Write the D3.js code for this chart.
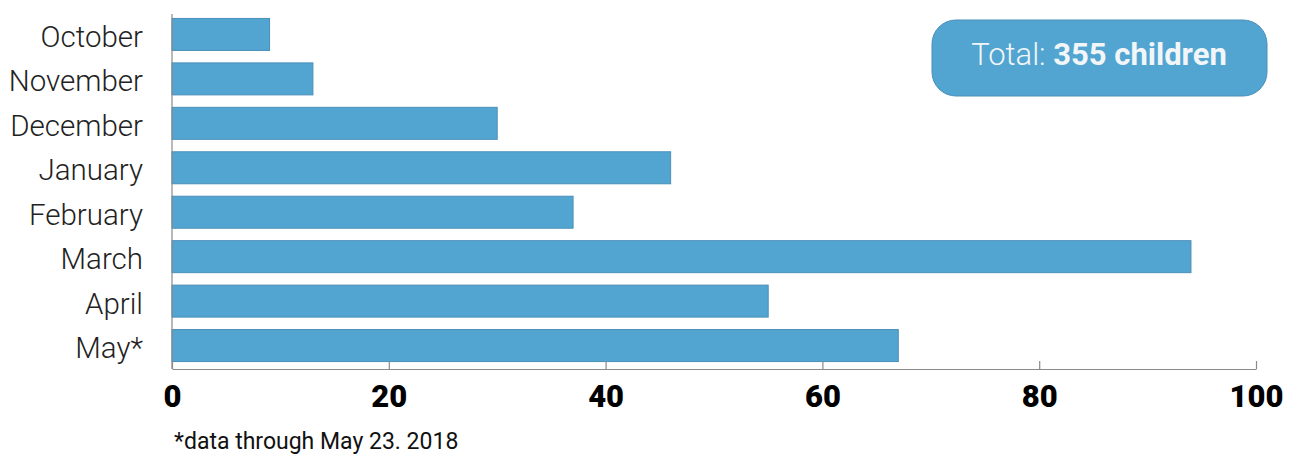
<!DOCTYPE html>
<html>
<head>
<meta charset="UTF-8">
<title>Children by month</title>
<script src="https://cdn.jsdelivr.net/npm/d3@7"></script>
<style>
  body { margin: 0; background: #fff; }
  .chart text { font-family: Roboto, "DejaVu Sans", sans-serif; }
</style>
</head>
<body>
<script>
  // data
  var months = ['October', 'November', 'December', 'January', 'February', 'March', 'April', 'May*'];
  var children = [9, 13, 30, 46, 37, 94, 55, 67];
  var xTicks = [0, 20, 40, 60, 80, 100];
  var totalLabel = 'Total: ';
  var totalValue = '355 children';
  var footnote = '*data through May 23. 2018';

  var width = 1291, height = 454,
      margin = {top: 14, right: 35, bottom: 85, left: 172};

  var svg = d3.select('body').append('svg')
    .attr('class', 'chart')
    .attr('width', width)
    .attr('height', height);

  var x = d3.scaleLinear()
    .domain([0, 100])
    .range([margin.left, 1256]);

  var y = d3.scaleBand()
    .domain(months)
    .range([margin.top, 366])
    .paddingInner(0.28)
    .paddingOuter(0.1);

  var axisY = 369;

  // bars
  svg.selectAll('rect.bar')
    .data(children)
    .enter()
    .append('rect')
    .attr('class', 'bar')
    .attr('x', x(0))
    .attr('y', function(d, i) { return y(months[i]); })
    .attr('width', function(d) { return x(d) - x(0); })
    .attr('height', y.bandwidth())
    .attr('fill', '#52a5d1')
    .attr('stroke', '#4a8fb9')
    .attr('stroke-width', 1);

  // left axis line
  svg.append('line')
    .attr('x1', x(0)).attr('x2', x(0))
    .attr('y1', margin.top).attr('y2', axisY)
    .attr('stroke', '#8a8a8a')
    .attr('stroke-width', 1.2);

  // month labels
  svg.selectAll('text.month')
    .data(months)
    .enter()
    .append('text')
    .attr('class', 'month')
    .attr('x', 143)
    .attr('y', function(d) { return y(d) + y.bandwidth() / 2; })
    .attr('dy', '0.42em')
    .attr('text-anchor', 'end')
    .attr('font-size', 29.5)
    .attr('font-weight', 300)
    .attr('fill', '#222')
    .text(function(d) { return d; });

  // bottom axis
  var xAxis = d3.axisBottom(x)
    .tickValues(xTicks)
    .tickSize(-8)
    .tickSizeOuter(0)
    .tickPadding(16);

  var gx = svg.append('g')
    .attr('transform', 'translate(0,' + axisY + ')')
    .call(xAxis);

  gx.select('.domain').attr('stroke', '#8a8a8a').attr('stroke-width', 1.2);
  gx.selectAll('.tick line').attr('stroke', '#8a8a8a').attr('stroke-width', 1.2);
  gx.selectAll('.tick text')
    .attr('font-family', 'Roboto, sans-serif')
    .attr('font-size', 31)
    .attr('font-weight', 900)
    .attr('fill', '#000');

  // footnote
  svg.append('text')
    .attr('x', 174)
    .attr('y', 449)
    .attr('font-size', 23)
    .attr('font-weight', 400)
    .attr('fill', '#111')
    .text(footnote);

  // total badge
  var badge = svg.append('g');
  badge.append('rect')
    .attr('x', 932).attr('y', 20)
    .attr('width', 335).attr('height', 76)
    .attr('rx', 24).attr('ry', 24)
    .attr('fill', '#52a5d1')
    .attr('stroke', '#4a8fb9')
    .attr('stroke-width', 1);

  var t = badge.append('text')
    .attr('x', 1099)
    .attr('y', 65)
    .attr('text-anchor', 'middle')
    .attr('font-size', 31)
    .attr('fill', '#f2f6f8');
  t.append('tspan').attr('font-weight', 300).text(totalLabel);
  t.append('tspan').attr('font-weight', 700).text(totalValue);
</script>
</body>
</html>
